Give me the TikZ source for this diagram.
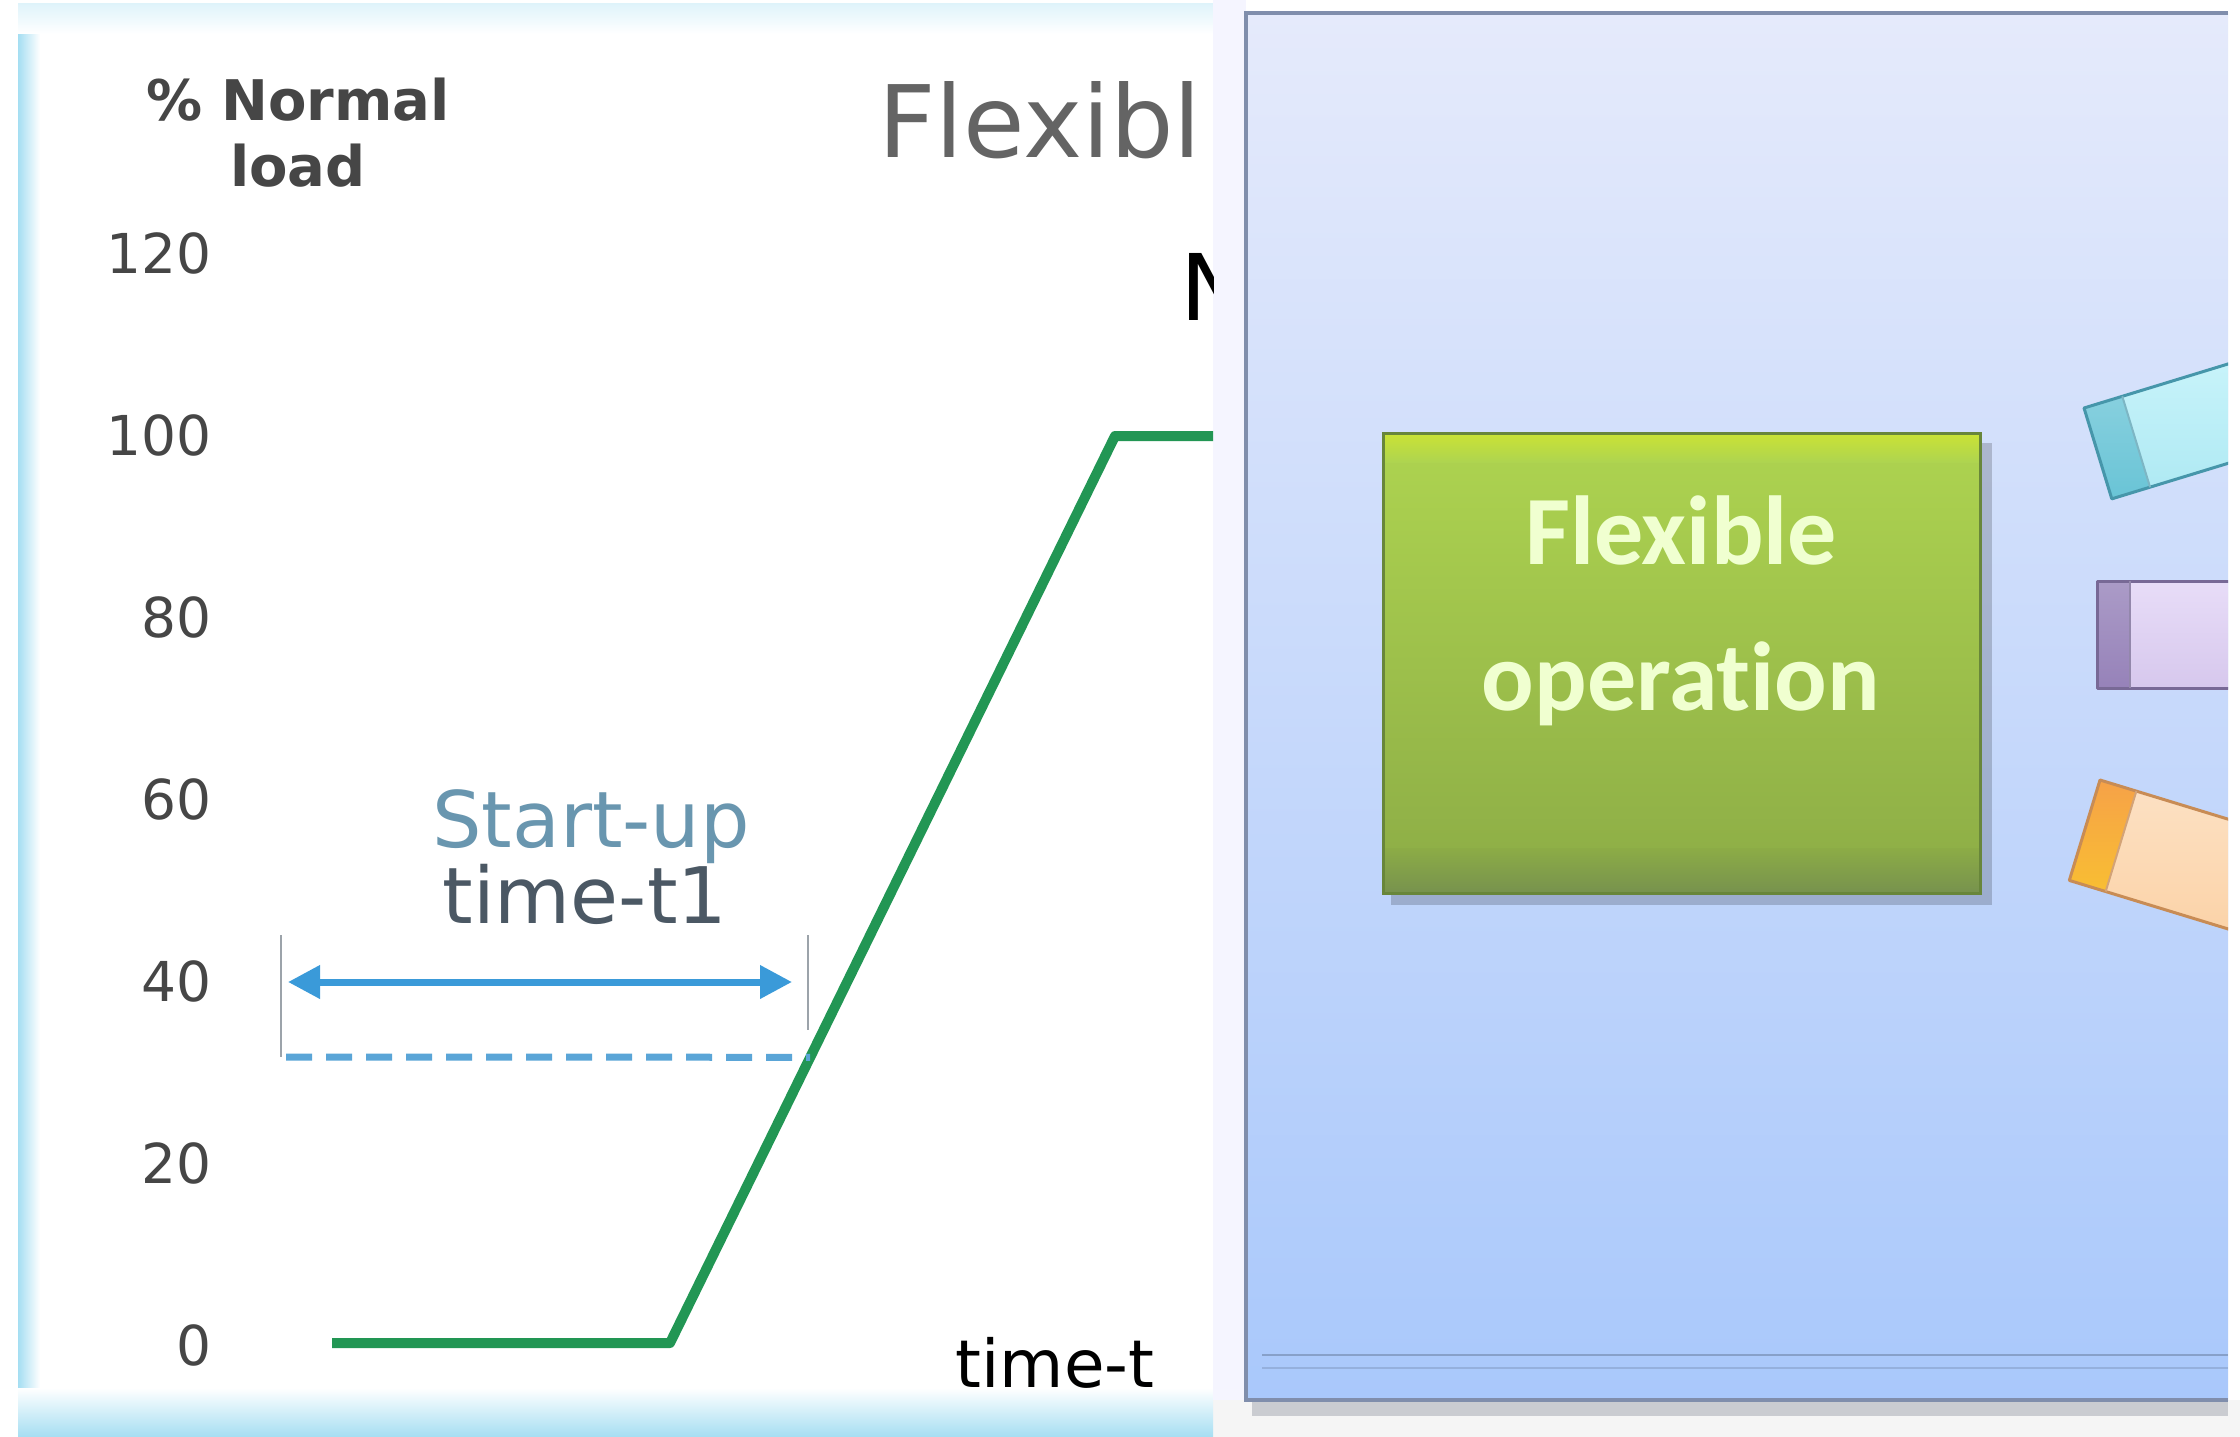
\documentclass[tikz,border=0pt]{standalone}
\usepackage{fontspec}
\setmainfont{DejaVu Sans}
\newfontfamily\boxfont[Ligatures=NoCommon]{Carlito}
\usetikzlibrary{arrows.meta,calc}

\definecolor{axisgray}{RGB}{70,70,70}
\definecolor{titlegray}{RGB}{100,100,100}
\definecolor{loadgreen}{RGB}{34,150,84}
\definecolor{spanblue}{RGB}{58,154,217}
\definecolor{dashblue}{RGB}{90,165,215}
\definecolor{noteblue}{RGB}{105,150,175}
\definecolor{notegray}{RGB}{75,88,100}
\definecolor{panelcyan}{RGB}{165,222,242}
\definecolor{paneltop}{RGB}{229,234,251}
\definecolor{panelmid}{RGB}{208,221,251}
\definecolor{panelbot}{RGB}{169,200,251}
\definecolor{panelrim}{RGB}{128,142,172}
\definecolor{opgreentop}{RGB}{174,212,80}
\definecolor{opgreenbot}{RGB}{140,172,70}
\definecolor{opgreenrim}{RGB}{104,134,58}
\definecolor{optext}{RGB}{240,255,208}
\definecolor{cyanbody}{RGB}{190,242,250}
\definecolor{cyancap}{RGB}{105,196,214}
\definecolor{cyanrim}{RGB}{70,150,170}
\definecolor{lilacbody}{RGB}{226,212,246}
\definecolor{lilaccap}{RGB}{150,130,185}
\definecolor{lilacrim}{RGB}{120,105,150}
\definecolor{peachbody}{RGB}{252,218,182}
\definecolor{peachcap}{RGB}{246,162,72}
\definecolor{peachrim}{RGB}{200,140,85}

\tikzset{
  ticklabel/.style={anchor=east, inner sep=0pt, text=axisgray, font=\fontsize{55}{60}\selectfont},
  notetext/.style={anchor=base, inner sep=0pt, font=\fontsize{78}{80}\selectfont},
  optext/.style={anchor=base, inner sep=0pt, text=optext, font=\boxfont\bfseries\fontsize{98}{100}\selectfont},
  barside/.style={line width=3pt, line join=round},
}

\begin{document}
\begin{tikzpicture}[x=1pt, y=-1pt]
\useasboundingbox (0,0) rectangle (2240,1437);
\fill[white] (0,0) rectangle (2240,1437);
\fill[black!4] (1213,1400) rectangle (2240,1437);

% left panel: chart
\fill[white] (18,4) rectangle (1213,1437);
\shade[left color=panelcyan, right color=white] (18,4) rectangle (40,1437);
\shade[top color=panelcyan!35, bottom color=white] (18,4) rectangle (1213,34);
\shade[top color=white, bottom color=panelcyan] (18,1388) rectangle (1213,1437);
\fill[blue!4] (1213,0) rectangle (1246,1400);

\node[anchor=center, inner sep=0pt, text=axisgray, align=center,
      font=\bfseries\fontsize{56}{66}\selectfont] (ylabel) at (298,133) {\% Normal\\load};
\foreach \v in {0,20,...,120}
  \node[ticklabel] (tick\v) at (212,{1345-9.1*\v}) {\v};

\begin{scope}
  \clip (18,4) rectangle (1213,1437);
  \node[anchor=base west, inner sep=0pt, text=titlegray,
        font=\fontsize{100}{104}\selectfont] (title) at (878,157) {Flexibl};
  \node[anchor=base west, inner sep=0pt, font=\fontsize{92}{96}\selectfont] (subtitle) at (1180,320) {N};

  \coordinate (loadstart) at (332,1343);
  \coordinate (rampfoot) at (670,1343);
  \coordinate (ramptop) at (1115,436);
  \coordinate (loadend) at (1240,436);
  \draw[loadgreen, line width=10pt, line join=round] (loadstart) -- (rampfoot) -- (ramptop) -- (loadend);
\end{scope}

% start-up span
\coordinate (spanL) at (288,982);
\coordinate (spanR) at (792,982);
\coordinate (markL) at (281,935);
\coordinate (markLb) at (281,1057);
\coordinate (markR) at (808,935);
\coordinate (markRb) at (808,1030);
\coordinate (dashL) at (286,1057);
\coordinate (dashR) at ($(rampfoot)!0.315!(ramptop)$);
\draw[notegray!55, line width=2pt] (markL) -- (markLb);
\draw[notegray!55, line width=2pt] (markR) -- (markRb);
\draw[dashblue, line width=7pt, dash pattern=on 26pt off 14pt] (dashL) -- (dashR);
\draw[spanblue, line width=7pt, {Triangle[length=32pt,width=32pt]}-{Triangle[length=32pt,width=32pt]}] (spanL) -- (spanR);
\node[notetext, text=noteblue] (startup) at (591,847) {Start-up};
\node[notetext, text=notegray] (startuptime) at (585,923) {time-t1};
\node[anchor=base, inner sep=0pt, font=\fontsize{66}{70}\selectfont] (timeaxis) at (1055,1387) {time-t};

% right panel
\fill[panelrim!60!black, opacity=0.25] (1252,1398) rectangle (2228,1416);
\shade[top color=paneltop, middle color=panelmid, bottom color=panelbot] (1246,13) rectangle (2228,1400);
\draw[panelbot!80!black, line width=2pt] (1262,1355) -- (2228,1355);
\draw[panelbot!88!black, line width=2pt] (1262,1368) -- (2228,1368);
\draw[panelrim, line width=4pt] (2228,13) -- (1246,13) -- (1246,1400) -- (2228,1400);

% flexible operation box
\fill[black, opacity=0.18] (1391,443) rectangle (1992,905);
\shade[top color=opgreentop, bottom color=opgreenbot] (1383,433) rectangle (1980,893);
\shade[top color=yellow!35!opgreentop, bottom color=opgreentop] (1383,433) rectangle (1980,462);
\shade[top color=opgreenbot, bottom color=opgreenrim!90] (1383,848) rectangle (1980,893);
\draw[opgreenrim, line width=3pt] (1383,433) rectangle (1980,893);
\node[optext] (opline1) at (1681,564) {Flexible};
\node[optext] (opline2) at (1681,710) {operation};

% bars leaving the box
\begin{scope}
  \clip (1246,13) rectangle (2228,1400);
  \begin{scope}[shift={(2084,408)}, rotate=17]
    \shade[top color=cyanbody!80!white, bottom color=cyanbody!80!cyancap] (0,0) rectangle (220,95);
    \shade[top color=cyancap!80!white, bottom color=cyancap] (0,0) rectangle (40,95);
    \draw[barside, cyanrim] (220,0) -- (0,0) -- (0,95) -- (220,95);
    \draw[cyanrim!70, line width=2pt] (40,0) -- (40,95);
  \end{scope}
  \begin{scope}[shift={(2097,581)}]
    \shade[top color=lilacbody!80!white, bottom color=lilacbody!85!lilaccap] (0,0) rectangle (220,107);
    \shade[top color=lilaccap!80!white, bottom color=lilaccap] (0,0) rectangle (33,107);
    \draw[barside, lilacrim] (220,0) -- (0,0) -- (0,107) -- (220,107);
    \draw[lilacrim!80, line width=2pt] (33,0) -- (33,107);
  \end{scope}
  \begin{scope}[shift={(2100,780)}, rotate=-17]
    \shade[top color=peachbody!80!white, bottom color=peachbody!85!peachcap] (0,0) rectangle (220,105);
    \shade[top color=peachcap, bottom color=peachcap!70!yellow] (0,0) rectangle (38,105);
    \draw[barside, peachrim] (220,0) -- (0,0) -- (0,105) -- (220,105);
    \draw[peachrim!80, line width=2pt] (38,0) -- (38,105);
  \end{scope}
\end{scope}
\end{tikzpicture}
\end{document}
